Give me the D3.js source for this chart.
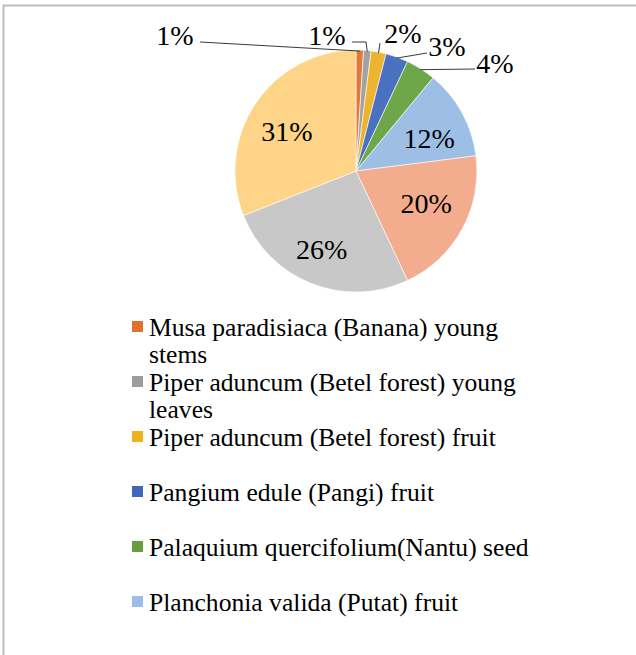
<!DOCTYPE html>
<html><head><meta charset="utf-8">
<script src="https://cdn.jsdelivr.net/npm/d3@7"></script>
<style>html,body{margin:0;padding:0;background:#fff;}svg{display:block;}</style>
</head><body>
<svg id="chart" width="636" height="655"></svg>
<script>
// ---- data ----
const categories = [
  "Musa paradisiaca (Banana) young stems",
  "Piper aduncum (Betel forest) young leaves",
  "Piper aduncum (Betel forest) fruit",
  "Pangium edule (Pangi) fruit",
  "Palaquium quercifolium(Nantu) seed",
  "Planchonia valida (Putat) fruit",
  "Other 7",
  "Other 8",
  "Other 9"
];
const values = [1, 1, 2, 3, 4, 12, 20, 26, 31];
const legendShown = 6;

// ---- styles / layout ----
const colors = ["#E07A3A", "#A2A2A2", "#EDB431", "#4A70C0", "#6EA64A", "#9EBFE5", "#F3AD8E", "#C8C8C8", "#FDD488"];
const legendColors = ["#E0722E", "#9C9C9C", "#EEB31A", "#3E67BE", "#65A03D", "#9BBDE6"];
// outer label placement (pixel offsets from pie centre) and leader-line elbows
const outerLabels = {
  0: {lx: -181, ly: -136, path: [[-156, -129]]},
  1: {lx: -29, ly: -136, path: [[-4, -129], [10, -129]]},
  2: {lx: 47, ly: -138, path: [[24, -128]]},
  3: {lx: 91, ly: -125, path: [[71, -118]]},
  4: {lx: 139, ly: -108, path: [[119, -102]]}
};
// small nudges for inside labels (Excel "best fit")
const insideNudge = {5: [3, 6], 6: [0, -6], 7: [-5, 4], 8: [-3, 5]};

const svg = d3.select("#chart");
const font = "'Liberation Serif','Times New Roman',serif";

// border (top + left)
svg.append("path").attr("d", "M3.5,655 V5.5 H636").attr("fill", "none").attr("stroke", "#bdbdbd").attr("stroke-width", 2);

const cx = 356, cy = 171, R = 121;
const g = svg.append("g").attr("transform", `translate(${cx},${cy})`);

const pie = d3.pie().sort(null).value(d => d)(values);
const arc = d3.arc().innerRadius(0).outerRadius(R);
const labelArc = d3.arc().innerRadius(80).outerRadius(80);
const edgeArc = d3.arc().innerRadius(R - 1).outerRadius(R - 1);

g.selectAll("path.slice").data(pie).join("path")
  .attr("class", "slice")
  .attr("d", arc)
  .attr("fill", (d, i) => colors[i])
  .attr("stroke", "#ffffff").attr("stroke-width", 0.6);

const total = d3.sum(values);
const pct = v => Math.round(v / total * 100) + "%";

pie.forEach((d, i) => {
  if (outerLabels[i]) {
    const o = outerLabels[i];
    const e = edgeArc.centroid(d);
    const pts = o.path.concat([e]);
    g.append("path")
      .attr("d", d3.line()(pts))
      .attr("fill", "none").attr("stroke", "#3a3a3a").attr("stroke-width", 1);
    g.append("text").attr("x", o.lx).attr("y", o.ly).attr("dy", "0.35em")
      .attr("text-anchor", "middle").attr("font-family", font).attr("font-size", 28)
      .attr("fill", "#000").text(pct(d.value));
  } else {
    const c = labelArc.centroid(d);
    const n = insideNudge[i] || [0, 0];
    g.append("text").attr("x", c[0] + n[0]).attr("y", c[1] + n[1]).attr("dy", "0.35em")
      .attr("text-anchor", "middle").attr("font-family", font).attr("font-size", 28)
      .attr("fill", "#000").text(pct(d.value));
  }
});

// legend
const lx = 132, ly0 = 327, step = 55, wrapW = 395, lineH = 27;
const leg = svg.append("g");
categories.slice(0, legendShown).forEach((name, i) => {
  const y = ly0 + i * step;
  leg.append("rect").attr("x", lx).attr("y", y - 6).attr("width", 11).attr("height", 11).attr("fill", legendColors[i]);
  const t = leg.append("text").attr("font-family", font).attr("font-size", 25.6).attr("fill", "#000");
  const words = name.split(" ");
  let line = [], lineNo = 0;
  let ts = t.append("tspan").attr("x", lx + 17).attr("y", y).attr("dy", "0.35em");
  words.forEach(w => {
    line.push(w);
    ts.text(line.join(" "));
    if (ts.node().getComputedTextLength() > wrapW && line.length > 1) {
      line.pop();
      ts.text(line.join(" "));
      line = [w];
      lineNo++;
      ts = t.append("tspan").attr("x", lx + 17).attr("y", y + lineNo * lineH).attr("dy", "0.35em").text(w);
    }
  });
});
</script>
</body></html>
